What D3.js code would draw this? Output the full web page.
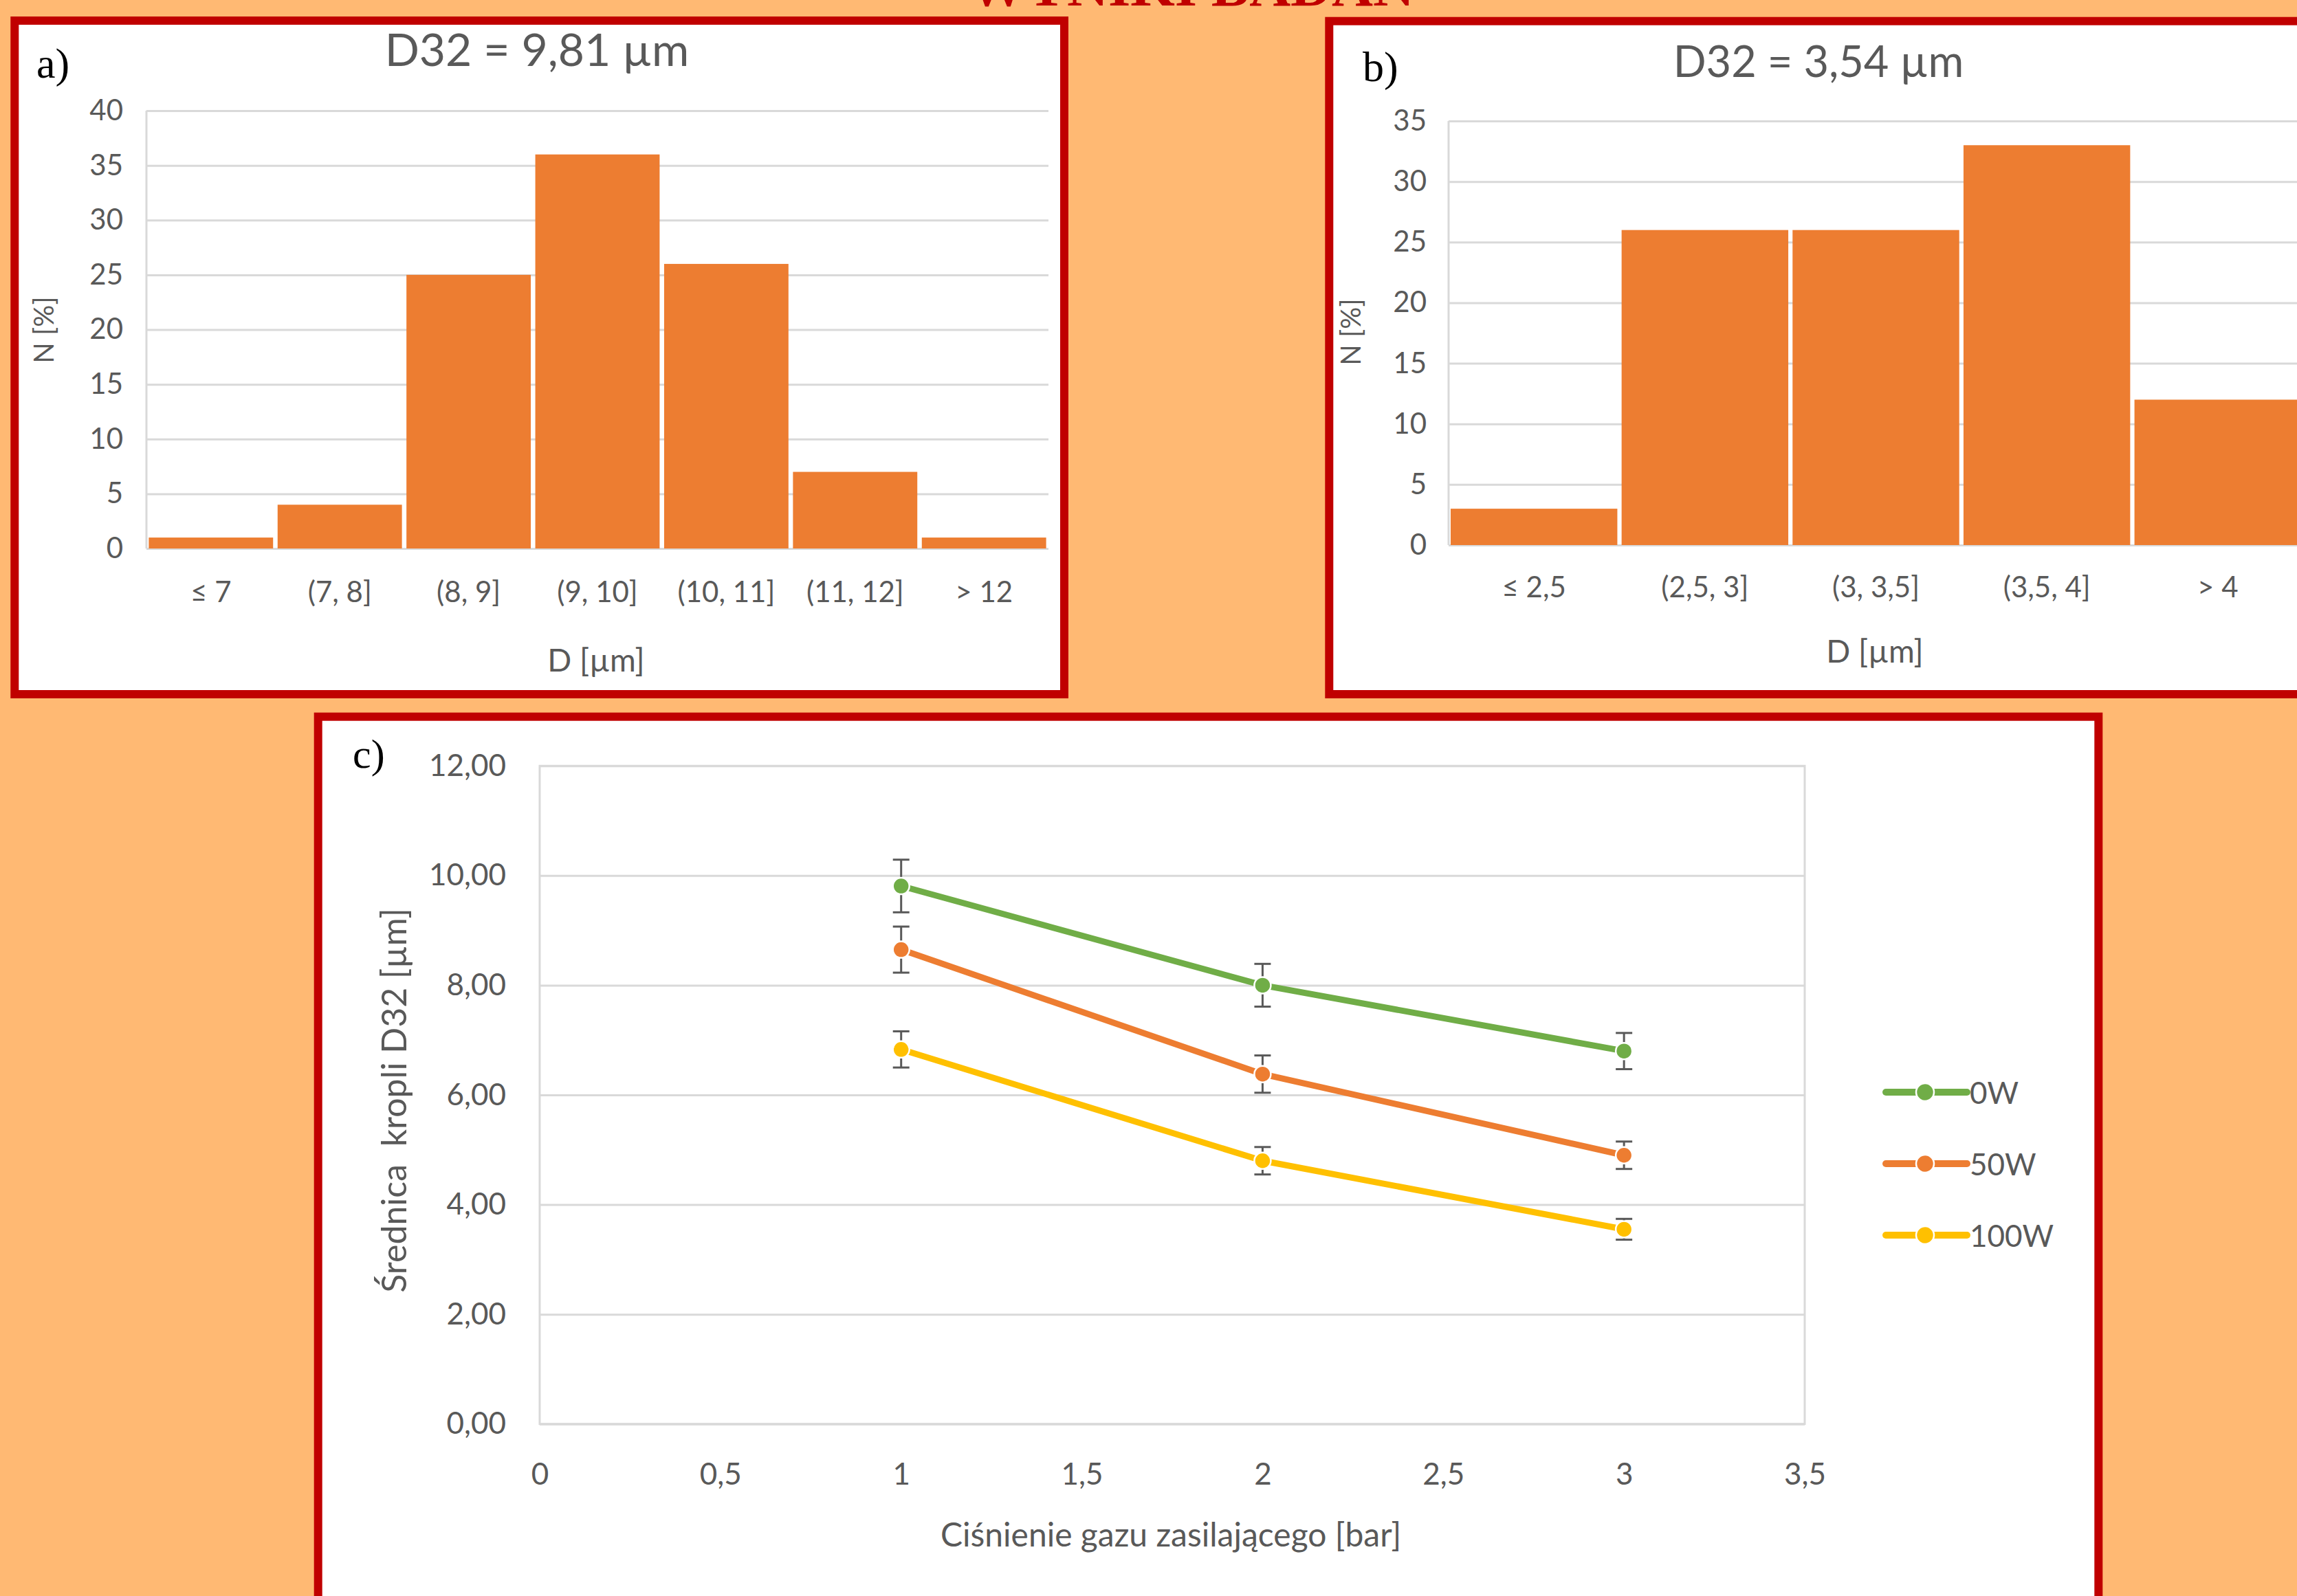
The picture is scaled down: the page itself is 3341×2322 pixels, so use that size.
<!DOCTYPE html>
<html><head><meta charset="utf-8">
<script src="https://cdn.jsdelivr.net/npm/d3@7"></script>
<style>html,body{margin:0;padding:0;background:#FFB973;overflow:hidden}</style>
</head><body>
<svg id="chart" width="3341" height="2322" xmlns="http://www.w3.org/2000/svg"></svg>
<script>
// ---------- DATA ----------
const pageTitle = "WYNIKI BADAŃ";
const catsA = ["≤ 7", "(7, 8]", "(8, 9]", "(9, 10]", "(10, 11]", "(11, 12]", "> 12"];
const valsA = [1, 4, 25, 36, 26, 7, 1];
const ticksA = [0, 5, 10, 15, 20, 25, 30, 35, 40];
const titleA = "D32 = 9,81 µm";

const catsB = ["≤ 2,5", "(2,5, 3]", "(3, 3,5]", "(3,5, 4]", "> 4"];
const valsB = [3, 26, 26, 33, 12];
const ticksB = [0, 5, 10, 15, 20, 25, 30, 35];
const titleB = "D32 = 3,54 µm";

const pressure = [1, 2, 3];
const seriesNames = ["0W", "50W", "100W"];
const d32_0W = [9.81, 8.00, 6.80];
const d32_50W = [8.65, 6.38, 4.90];
const d32_100W = [6.83, 4.80, 3.55];
const err_0W = [0.48, 0.39, 0.33];
const err_50W = [0.42, 0.34, 0.25];
const err_100W = [0.33, 0.25, 0.19];
const xTicksC = [0, 0.5, 1, 1.5, 2, 2.5, 3, 3.5];
const yTicksC = [0, 2, 4, 6, 8, 10, 12];

// ---------- STYLE ----------
const C = {
  bg: "#FFB973", red: "#C00000", bar: "#ED7D31", grid: "#D9D9D9", text: "#595959",
  series: ["#70AD47", "#ED7D31", "#FFC000"]
};
const FONT = "Lato, 'Open Sans', sans-serif";
const SERIF = "'Liberation Serif', 'DejaVu Serif', serif";

const pl = d3.formatLocale({decimal: ",", thousands: " ", grouping: [3], currency: ["", " zł"]});
const fmtYC = pl.format(".2f");
const fmtXC = pl.format("~g");

const svg = d3.select("#chart");
svg.append("rect").attr("width", 3341).attr("height", 2322).attr("fill", C.bg);

// page title (cut off at top, as in the original)
svg.append("text").attr("x", 1733).attr("y", 7.5).attr("text-anchor", "middle")
  .attr("font-family", SERIF).attr("font-weight", "bold").attr("font-size", 83)
  .attr("fill", C.red).text(pageTitle);

// panels
function panel(x, y, w, h) {
  svg.append("rect").attr("x", x).attr("y", y).attr("width", w).attr("height", h)
    .attr("fill", "#fff").attr("stroke", C.red).attr("stroke-width", 12);
}
panel(21.3, 30, 1526.7, 980);
panel(1933.3, 30.7, 1600, 979.3);
panel(462.7, 1042.7, 2589.6, 1400);

function label(txt, x, y, size, opts = {}) {
  const t = svg.append("text").attr("x", x).attr("y", y)
    .attr("font-family", opts.family || FONT).attr("font-size", size)
    .attr("fill", opts.fill || C.text).attr("text-anchor", opts.anchor || "middle")
    .text(txt);
  if (opts.central) t.attr("dominant-baseline", "central");
  if (opts.rotate) t.attr("transform", `rotate(-90,${x},${y})`);
  return t;
}

// ---------- HISTOGRAMS ----------
function hist(cfg) {
  const g = svg.append("g");
  const x = d3.scaleBand().domain(cfg.cats).range([cfg.left, cfg.right])
    .paddingInner(cfg.padIn).paddingOuter(cfg.padOut);
  const y = d3.scaleLinear().domain([0, d3.max(cfg.ticks)]).range([cfg.bottom, cfg.top]);

  const grid = g.append("g").attr("transform", `translate(${cfg.left},0)`)
    .call(d3.axisLeft(y).tickValues(cfg.ticks).tickSize(-(cfg.right - cfg.left)).tickFormat(""));
  grid.select(".domain").remove();
  grid.selectAll("line").attr("stroke", C.grid).attr("stroke-width", 3);
  g.append("line").attr("x1", cfg.left).attr("x2", cfg.left).attr("y1", y.range()[1]).attr("y2", y.range()[0])
    .attr("stroke", C.grid).attr("stroke-width", 3);

  g.selectAll("rect.bar").data(cfg.vals).join("rect").attr("class", "bar")
    .attr("x", (d, i) => x(cfg.cats[i])).attr("width", x.bandwidth())
    .attr("y", d => y(d)).attr("height", d => y(0) - y(d)).attr("fill", C.bar);

  const ya = g.append("g").attr("transform", `translate(${cfg.left},0)`)
    .call(d3.axisLeft(y).tickValues(cfg.ticks).tickSize(0).tickPadding(cfg.tickPad));
  ya.select(".domain").remove();
  ya.selectAll("text").attr("font-family", FONT).attr("font-size", cfg.tickSize).attr("fill", C.text);

  const xa = g.append("g").attr("transform", `translate(0,${cfg.bottom})`)
    .call(d3.axisBottom(x).tickSize(0));
  xa.select(".domain").remove();
  xa.selectAll("text").attr("y", cfg.catOffset).attr("dy", "0.35em")
    .attr("font-family", FONT).attr("font-size", cfg.tickSize).attr("fill", C.text);

  label(cfg.title, cfg.titleX, cfg.titleY, cfg.titleSize);
  label("D [µm]", cfg.xTitleX, cfg.xTitleY, 46, {central: true});
  label("N [%]", cfg.yTitleX, cfg.yTitleY, 40, {central: true, rotate: true});
  label(cfg.tag, cfg.tagX, cfg.tagY, 62, {family: SERIF, fill: "#000", anchor: "start"});
}

hist({cats: catsA, vals: valsA, ticks: ticksA, left: 213, right: 1525, top: 161, bottom: 798,
  padIn: 0.035, padOut: 0.018, tickPad: 34, tickSize: 42, catOffset: 63,
  title: titleA, titleSize: 66, titleX: 781, titleY: 96, xTitleX: 867, xTitleY: 959, yTitleX: 63, yTitleY: 480,
  tag: "a)", tagX: 53, tagY: 113});

hist({cats: catsB, vals: valsB, ticks: ticksB, left: 2107, right: 3350, top: 176, bottom: 793,
  padIn: 0.025, padOut: 0.012, tickPad: 32, tickSize: 42, catOffset: 61,
  title: titleB, titleSize: 63, titleX: 2645, titleY: 112, xTitleX: 2727, xTitleY: 946, yTitleX: 1964, yTitleY: 483,
  tag: "b)", tagX: 1982, tagY: 118});

// ---------- LINE CHART ----------
(function () {
  const L = 785, R = 2625, T = 1114.3, B = 2071.7;
  const x = d3.scaleLinear().domain([0, 3.5]).range([L, R]);
  const y = d3.scaleLinear().domain([0, 12]).range([B, T]);
  const g = svg.append("g");

  const grid = g.append("g").attr("transform", `translate(${L},0)`)
    .call(d3.axisLeft(y).tickValues(yTicksC).tickSize(-(R - L)).tickFormat(""));
  grid.select(".domain").remove();
  grid.selectAll("line").attr("stroke", C.grid).attr("stroke-width", 3);
  g.append("rect").attr("x", L).attr("y", T).attr("width", R - L).attr("height", B - T)
    .attr("fill", "none").attr("stroke", C.grid).attr("stroke-width", 3);

  const ya = g.append("g").attr("transform", `translate(${L},0)`)
    .call(d3.axisLeft(y).tickValues(yTicksC).tickSize(0).tickPadding(49).tickFormat(fmtYC));
  ya.select(".domain").remove();
  ya.selectAll("text").attr("font-family", FONT).attr("font-size", 44).attr("fill", C.text);

  const xa = g.append("g").attr("transform", `translate(0,${B})`)
    .call(d3.axisBottom(x).tickValues(xTicksC).tickSize(0).tickFormat(fmtXC));
  xa.select(".domain").remove();
  xa.selectAll("text").attr("y", 73).attr("dy", "0.35em")
    .attr("font-family", FONT).attr("font-size", 44).attr("fill", C.text);

  const series = [
    {name: seriesNames[0], vals: d32_0W, errs: err_0W, color: C.series[0]},
    {name: seriesNames[1], vals: d32_50W, errs: err_50W, color: C.series[1]},
    {name: seriesNames[2], vals: d32_100W, errs: err_100W, color: C.series[2]}
  ];

  series.forEach(s => {
    const eg = g.append("g").attr("stroke", "#595959").attr("stroke-width", 3);
    pressure.forEach((p, i) => {
      const lo = s.vals[i] - s.errs[i], hi = s.vals[i] + s.errs[i];
      eg.append("line").attr("x1", x(p)).attr("x2", x(p)).attr("y1", y(lo)).attr("y2", y(hi));
      eg.append("line").attr("x1", x(p) - 12).attr("x2", x(p) + 12).attr("y1", y(lo)).attr("y2", y(lo));
      eg.append("line").attr("x1", x(p) - 12).attr("x2", x(p) + 12).attr("y1", y(hi)).attr("y2", y(hi));
    });
  });

  const line = d3.line().x((d, i) => x(pressure[i])).y(d => y(d));
  series.forEach(s => {
    g.append("path").attr("d", line(s.vals)).attr("fill", "none").attr("stroke", s.color)
      .attr("stroke-width", 9).attr("stroke-linejoin", "round");
    g.selectAll(null).data(s.vals).join("circle")
      .attr("cx", (d, i) => x(pressure[i])).attr("cy", d => y(d)).attr("r", 12)
      .attr("fill", s.color).attr("stroke", "#fff").attr("stroke-width", 2.5);
  });

  const lg = svg.append("g");
  const legY = d3.scalePoint().domain(seriesNames).range([1589, 1797]);
  series.forEach(s => {
    const yy = legY(s.name);
    lg.append("line").attr("x1", 2743).attr("x2", 2861).attr("y1", yy).attr("y2", yy)
      .attr("stroke", s.color).attr("stroke-width", 10).attr("stroke-linecap", "round");
    lg.append("circle").attr("cx", 2800).attr("cy", yy).attr("r", 13)
      .attr("fill", s.color).attr("stroke", "#fff").attr("stroke-width", 2.5);
    label(s.name, 2865, yy, 44, {anchor: "start", central: true});
  });

  label("Ciśnienie gazu zasilającego [bar]", 1703, 2231, 48, {central: true});
  label("Średnica  kropli D32 [µm]", 572, 1601, 50, {central: true, rotate: true}).style("white-space", "pre");
  label("c)", 513, 1117, 60, {family: SERIF, fill: "#000", anchor: "start"});
})();
</script>
</body></html>
